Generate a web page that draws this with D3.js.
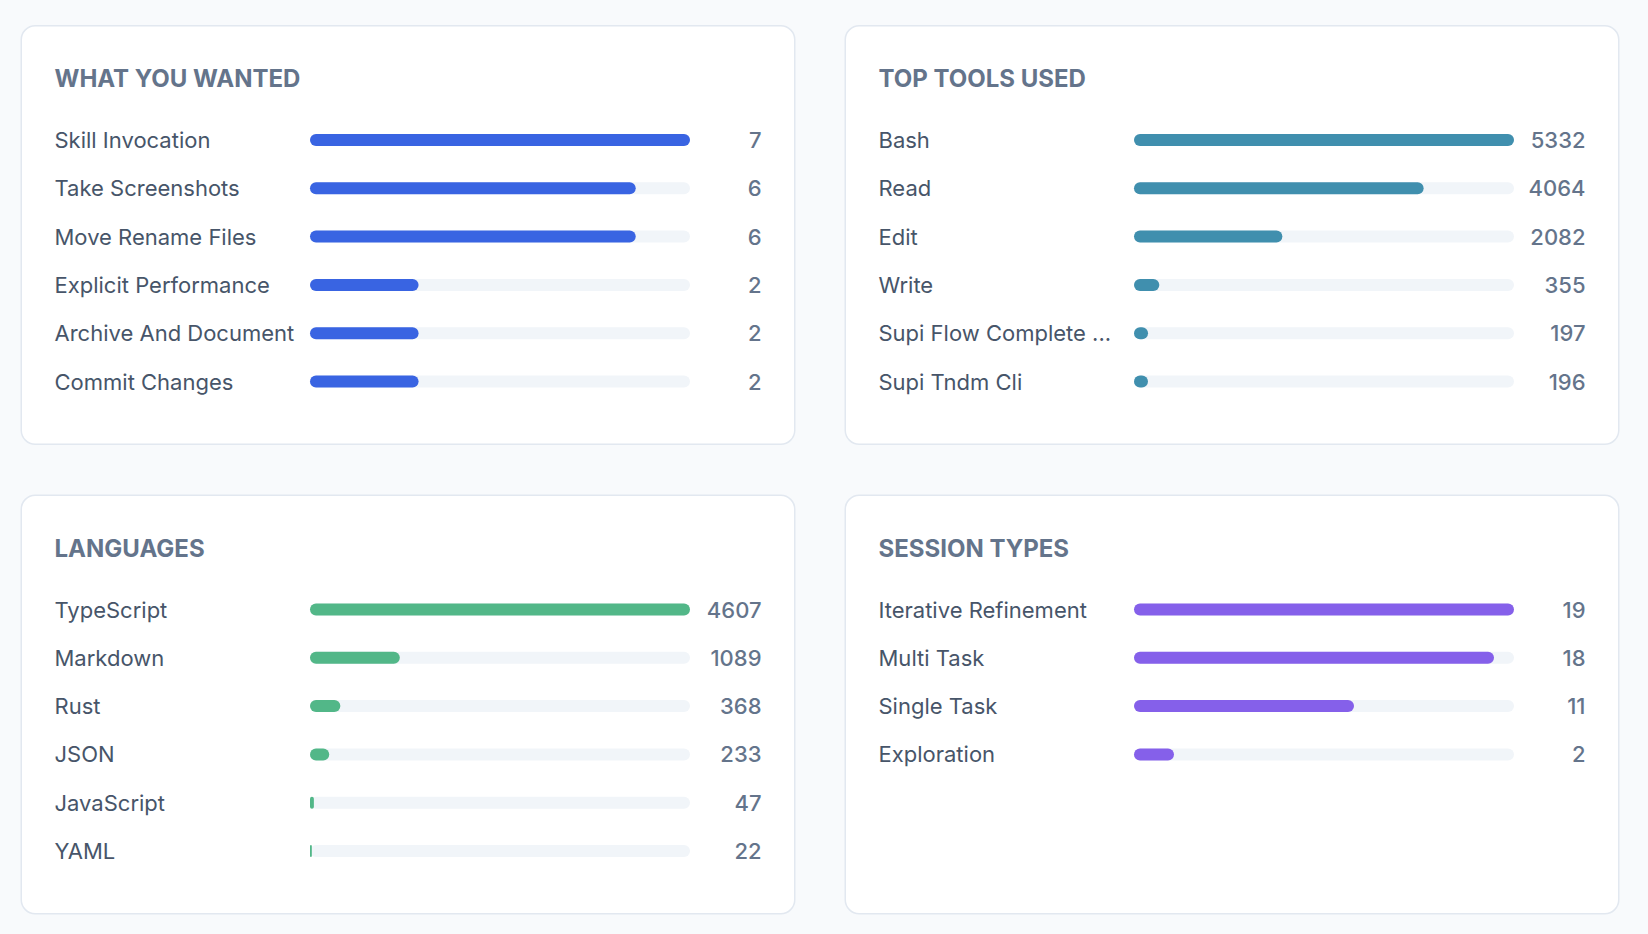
<!DOCTYPE html>
<html>
<head>
<meta charset="utf-8">
<script src="https://cdn.jsdelivr.net/npm/d3@7"></script>
<style>
  html, body { margin: 0; padding: 0; background: #f8fafc; }
  svg { display: block; }
  text { font-family: Inter, "Noto Sans", sans-serif; }
</style>
</head>
<body>
<svg id="chart" width="1648" height="934"></svg>
<script>
// ---- Data ----
const wantedLabels = ["Skill Invocation", "Take Screenshots", "Move Rename Files", "Explicit Performance", "Archive And Document", "Commit Changes"];
const wantedValues = [7, 6, 6, 2, 2, 2];

const toolsLabels = ["Bash", "Read", "Edit", "Write", "Supi Flow Complete ...", "Supi Tndm Cli"];
const toolsValues = [5332, 4064, 2082, 355, 197, 196];

const langLabels = ["TypeScript", "Markdown", "Rust", "JSON", "JavaScript", "YAML"];
const langValues = [4607, 1089, 368, 233, 47, 22];

const sessionLabels = ["Iterative Refinement", "Multi Task", "Single Task", "Exploration"];
const sessionValues = [19, 18, 11, 2];

const panelTitles = ["WHAT YOU WANTED", "TOP TOOLS USED", "LANGUAGES", "SESSION TYPES"];
const panelColors = ["#3964e2", "#408fae", "#52b788", "#8560ea"];

// ---- Layout ----
const svg = d3.select("#chart");
const cardW = 775, cardH = 420;
const cardX = [20.5, 844.5], cardY = [25, 494.5];

const panels = [
  { title: panelTitles[0], labels: wantedLabels, values: wantedValues, color: panelColors[0], x: cardX[0], y: cardY[0] },
  { title: panelTitles[1], labels: toolsLabels, values: toolsValues, color: panelColors[1], x: cardX[1], y: cardY[0] },
  { title: panelTitles[2], labels: langLabels, values: langValues, color: panelColors[2], x: cardX[0], y: cardY[1] },
  { title: panelTitles[3], labels: sessionLabels, values: sessionValues, color: panelColors[3], x: cardX[1], y: cardY[1] }
];

panels.forEach(p => {
  const g = svg.append("g").attr("transform", `translate(${p.x},${p.y})`);
  g.append("rect")
    .attr("x", 0.75).attr("y", 0.75)
    .attr("width", cardW - 1.5).attr("height", cardH - 1.5)
    .attr("rx", 14).attr("ry", 14)
    .attr("fill", "#ffffff")
    .attr("stroke", "#e2e8f0").attr("stroke-width", 1.5);

  g.append("text")
    .attr("x", 34).attr("y", 62)
    .attr("fill", "#64748b")
    .attr("font-size", 24).attr("font-weight", 700)
    .text(p.title);

  const barX0 = 289.5, trackW = 380, barH = 12;
  const x = d3.scaleLinear().domain([0, d3.max(p.values)]).range([0, trackW]);
  const y = d3.scaleLinear().domain([0, 1]).range([115, 115 + 48.3]);

  const rows = g.selectAll("g.row").data(p.labels.map((l, i) => ({ label: l, value: p.values[i], i })))
    .enter().append("g").attr("class", "row")
    .attr("transform", d => `translate(0,${y(d.i)})`);

  rows.append("text")
    .attr("x", 34).attr("y", 8)
    .attr("fill", "#475569")
    .attr("font-size", 22)
    .text(d => d.label);

  rows.append("rect")
    .attr("x", barX0).attr("y", -barH / 2)
    .attr("width", trackW).attr("height", barH)
    .attr("rx", barH / 2)
    .attr("fill", "#f1f5f9");

  rows.append("rect")
    .attr("x", barX0).attr("y", -barH / 2)
    .attr("width", d => x(d.value)).attr("height", barH)
    .attr("rx", d => Math.min(barH / 2, x(d.value) / 2))
    .attr("fill", p.color);

  rows.append("text")
    .attr("x", cardW - 34).attr("y", 8)
    .attr("text-anchor", "end")
    .attr("fill", "#64748b")
    .attr("font-size", 22).attr("font-weight", 500)
    .text(d => d.value);
});
</script>
</body>
</html>
